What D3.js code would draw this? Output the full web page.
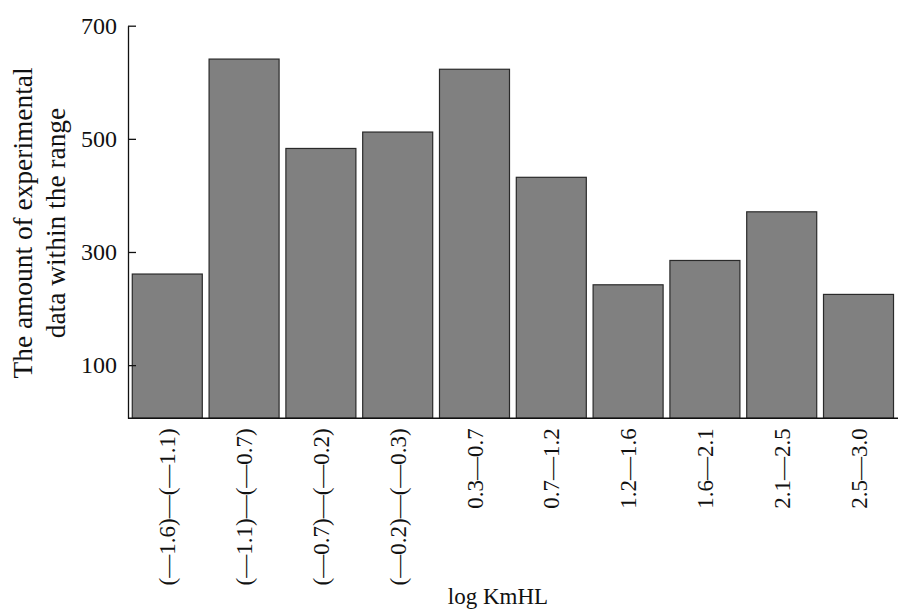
<!DOCTYPE html>
<html>
<head>
<meta charset="utf-8">
<script src="https://cdn.jsdelivr.net/npm/d3@7"></script>
<style>
  body { margin: 0; background: #fff; }
  text { font-family: "Liberation Serif", "DejaVu Serif", serif; fill: #111; }
</style>
</head>
<body>
<svg id="chart" width="898" height="611"></svg>
<script>
// bins of log KmHL
var categories = ['(\u20141.6)\u2014(\u20141.1)', '(\u20141.1)\u2014(\u20140.7)', '(\u20140.7)\u2014(\u20140.2)',
  '(\u20140.2)\u2014(\u20140.3)', '0.3\u20140.7', '0.7\u20141.2', '1.2\u20141.6', '1.6\u20142.1', '2.1\u20142.5', '2.5\u20143.0'];
var counts = [261, 641, 483, 512, 623, 432, 242, 285, 371, 225];
var yTicks = [100, 300, 500, 700];

var svg = d3.select('#chart');

var x = d3.scaleBand()
  .domain(categories)
  .range([128.9, 896.9])
  .paddingInner(0.0885)
  .paddingOuter(0.044);

var y = d3.scaleLinear()
  .domain([6, 700])
  .range([418.3, 25.7]);

// bars
svg.append('g').selectAll('rect')
  .data(counts)
  .enter()
  .append('rect')
  .attr('x', function(d, i) { return x(categories[i]); })
  .attr('y', function(d) { return y(d); })
  .attr('width', x.bandwidth())
  .attr('height', function(d) { return y(6) - y(d); })
  .attr('fill', '#808080')
  .attr('stroke', '#2a2a2a')
  .attr('stroke-width', 1.2);

// y axis, ticks point inward
var yAxis = svg.append('g')
  .attr('transform', 'translate(128,0)')
  .call(d3.axisRight(y).tickValues(yTicks).tickSize(8).tickSizeOuter(0));
yAxis.select('.domain').attr('stroke', '#111').attr('stroke-width', 1.3);
yAxis.selectAll('.tick line').attr('stroke', '#111').attr('stroke-width', 1.3);
yAxis.selectAll('.tick text')
  .attr('x', -11)
  .attr('text-anchor', 'end')
  .attr('font-size', 24)
  .attr('font-family', '"Liberation Serif", serif')
  .attr('fill', '#111');

// x axis line
var xAxis = svg.append('g')
  .attr('transform', 'translate(0,418.3)')
  .call(d3.axisBottom(x).tickSize(0).tickSizeOuter(0));
xAxis.select('.domain').attr('stroke', '#111').attr('stroke-width', 1.5)
  .attr('d', 'M128,0H898');
xAxis.selectAll('.tick text')
  .attr('transform', 'rotate(-90)')
  .attr('x', -10)
  .attr('y', 0)
  .attr('dy', '0.35em')
  .attr('text-anchor', 'end')
  .attr('font-size', 23)
  .attr('font-family', '"Liberation Serif", serif')
  .attr('fill', '#111');

// axis titles
var yTitle = svg.append('text')
  .attr('transform', 'translate(0,223) rotate(-90)')
  .attr('text-anchor', 'middle')
  .attr('font-size', 27.4);
yTitle.append('tspan').attr('x', 0).attr('y', 32).text('The amount of experimental');
yTitle.append('tspan').attr('x', 0).attr('y', 65).text('data within the range');

svg.append('text')
  .attr('x', 498)
  .attr('y', 604)
  .attr('text-anchor', 'middle')
  .attr('font-size', 23)
  .text('log KmHL');
</script>
</body>
</html>
